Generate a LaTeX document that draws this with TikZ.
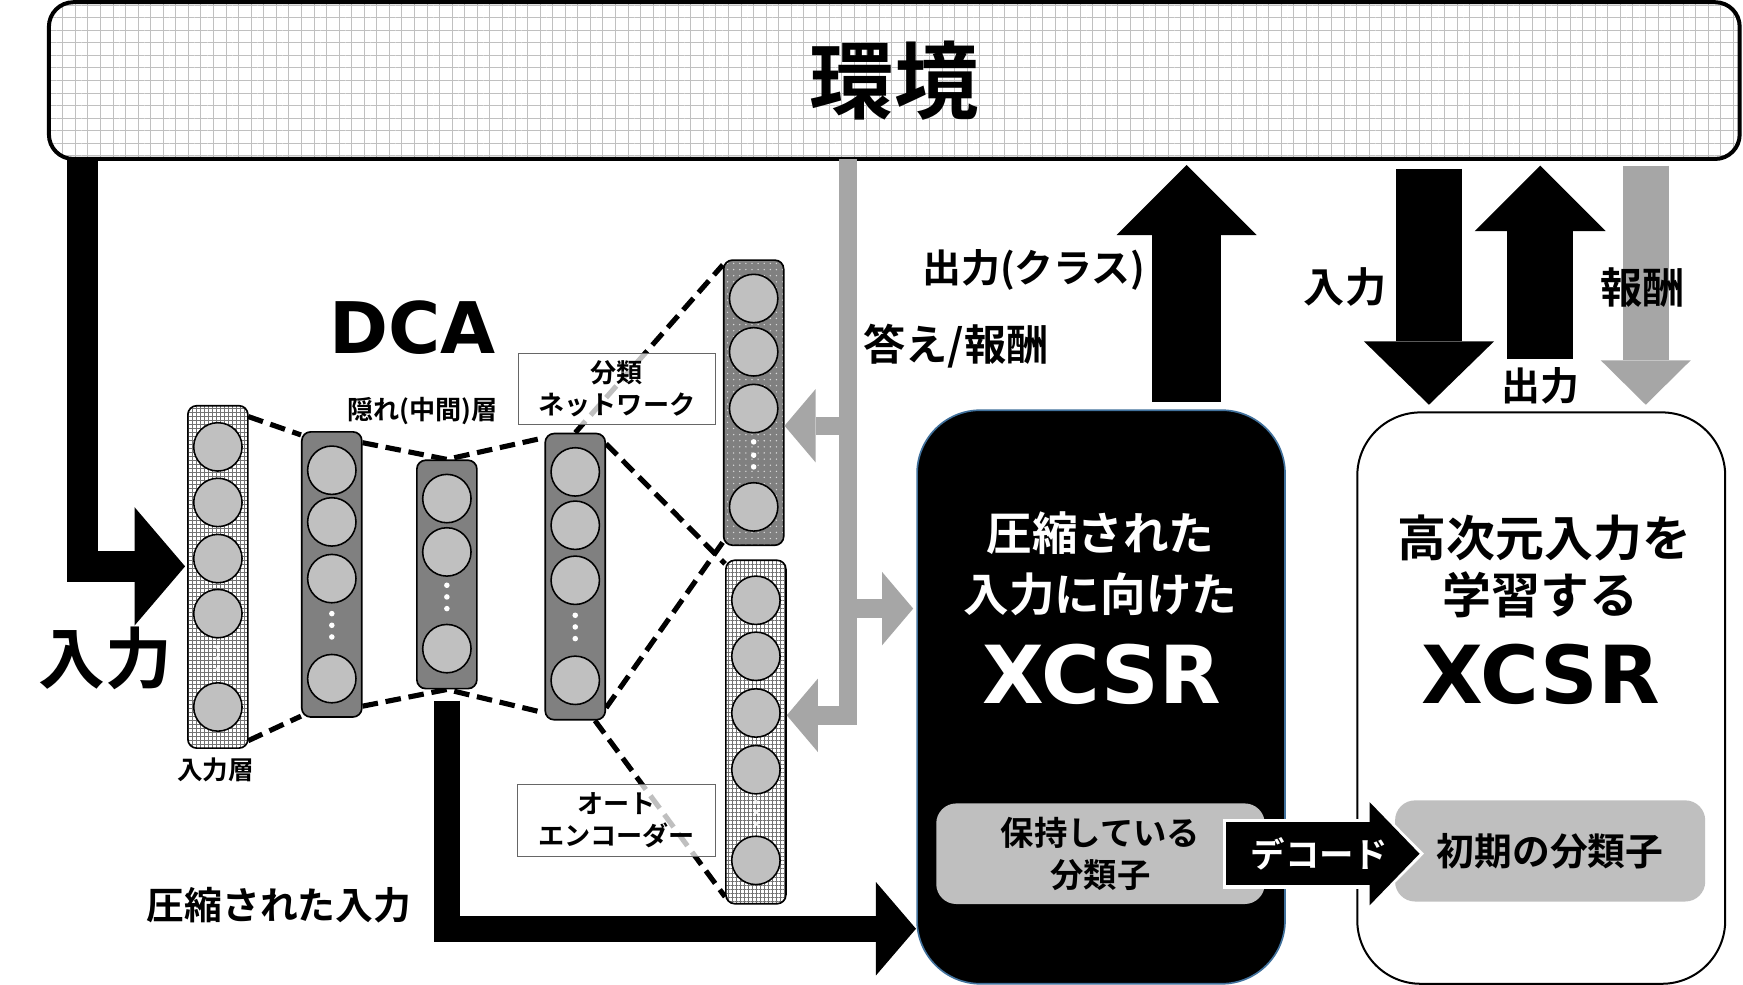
\documentclass[tikz,border=0pt]{standalone}
\usepackage{fontspec}
\newfontfamily\jp{Noto Sans CJK JP}[BoldFont={* Bold}]
\newfontfamily\lat{DejaVu Sans}
\usetikzlibrary{arrows.meta,patterns.meta,backgrounds,positioning}

\definecolor{fbgray}{HTML}{A6A6A6}
\definecolor{cellgray}{HTML}{C0C0C0}
\definecolor{layergray}{HTML}{808080}
\definecolor{boxgray}{HTML}{BFBFBF}
\definecolor{edgeblue}{HTML}{41719C}

\newcommand{\jpf}[2]{\jp\bfseries\fontsize{#1pt}{#2pt}\selectfont}
\newcommand{\latf}[1]{\lat\bfseries\fontsize{#1pt}{#1pt}\selectfont}

\begin{document}
\begin{tikzpicture}[x=1pt, y=-1pt,
  layerbox/.style={draw, line width=1.5pt, rounded corners=8pt, minimum width=54pt, inner sep=0pt},
  gridfill/.style={preaction={fill=white}, pattern={Hatch[distance=3.6pt, line width=0.6pt]}, pattern color=black!55},
  dotfill/.style={preaction={fill=layergray}, pattern={Dots[distance=5.5pt, radius=0.7pt]}, pattern color=black!15},
  neuron/.style={circle, draw, line width=1.4pt, fill=cellgray, minimum size=43.5pt, inner sep=0pt},
  vdot/.style={circle, fill=white, minimum size=5pt, inner sep=0pt},
  link/.style={line width=4.6pt, dash pattern=on 14pt off 7pt},
  tagbox/.style={draw=black!60, line width=0.8pt, fill=white, fill opacity=0.75, text opacity=1,
    minimum width=178pt, minimum height=64.5pt, inner sep=0pt, align=center, font=\jpf{23.5}{28.5}},
  bigarrow/.style n args={3}{line width=#1, -{Triangle[length=#2, width=#3, line width=0pt]}},
  fbline/.style={color=fbgray, line width=16.5pt, -{Triangle[length=28pt, width=66pt, line width=0pt]}},
  txt/.style={inner sep=0pt, font=\jpf{#1}{#1}},
  xcsrbox/.style={rounded corners=57pt, minimum width=331pt, inner sep=0pt},
  ruleset/.style={fill=boxgray, rounded corners=18pt, inner sep=0pt, align=center}
]
\useasboundingbox (0,0) rectangle (1568,886);

% environment
\node[draw, line width=3.6pt, rounded corners=22pt, minimum width=1521pt, minimum height=141pt,
  inner sep=0pt, preaction={fill=white}, pattern={Hatch[distance=11.3pt, line width=0.9pt]},
  pattern color=cellgray, font=\jpf{76}{76}] (env) at (804.5,72.5) {環境};

% DCA layers
\node[layerbox, gridfill, minimum height=308pt] (inp) at (196,519) {};
\foreach \y [count=\i] in {402,452,502.5,552,636}
  \node[neuron] (inp-\i) at (196,\y) {};
\foreach \y [count=\i] in {582,592,602}
  \node[vdot, opacity=0.8, minimum size=4pt] (inp-d\i) at (196,\y) {};

\node[layerbox, fill=layergray, minimum height=256.5pt] (h1) at (298.5,516.75) {};
\foreach \y [count=\i] in {423,469.5,520.5,610.5}
  \node[neuron] (h1-\i) at (298.5,\y) {};
\foreach \y [count=\i] in {552,562.5,573}
  \node[vdot] (h1-d\i) at (298.5,\y) {};

\node[layerbox, fill=layergray, minimum height=205.5pt] (h2) at (402,516.75) {};
\foreach \y [count=\i] in {448.5,496.5,583.5}
  \node[neuron] (h2-\i) at (402,\y) {};
\foreach \y [count=\i] in {526.5,537,547.5}
  \node[vdot] (h2-d\i) at (402,\y) {};

\node[layerbox, fill=layergray, minimum height=257.5pt] (h3) at (517.5,518.75) {};
\foreach \y [count=\i] in {424.5,472.5,522,612}
  \node[neuron] (h3-\i) at (517.5,\y) {};
\foreach \y [count=\i] in {553.5,564,574.5}
  \node[vdot] (h3-d\i) at (517.5,\y) {};

\node[layerbox, dotfill, minimum height=256.5pt] (cls) at (678,362.25) {};
\foreach \y [count=\i] in {268.5,316.5,367.5,456}
  \node[neuron] (cls-\i) at (678,\y) {};
\foreach \y [count=\i] in {397.5,409.5,420}
  \node[vdot] (cls-d\i) at (678,\y) {};

\node[layerbox, gridfill, minimum height=309pt] (ae) at (680,658.5) {};
\foreach \y [count=\i] in {540,590.4,641.4,692.4,774}
  \node[neuron] (ae-\i) at (680,\y) {};
\foreach \y [count=\i] in {721.5,730.5,741}
  \node[vdot, opacity=0.8, minimum size=4pt] (ae-d\i) at (680,\y) {};

% dashed links behind the layers
\begin{pgfonlayer}{background}
  \fill[white] (0,0) rectangle (1568,886);
  \draw[link] ([yshift=-10pt]inp.north east) -- ([yshift=-3.5pt]h1.north west);
  \draw[link] ([yshift=-10.5pt]h1.north east) -- (h2.north) -- ([yshift=-4.5pt]h3.north west);
  \draw[link] ([yshift=7pt]inp.south east) -- ([yshift=1.5pt]h1.south west);
  \draw[link] ([yshift=10.5pt]h1.south east) -- (h2.south) -- ([yshift=7pt]h3.south west);
  \draw[link] (h3.north) -- ([yshift=-5pt]cls.north west);
  \draw[link] ([yshift=-10pt]h3.north east) -- ([yshift=-4pt]ae.north west);
  \draw[link] ([yshift=11.5pt]h3.south east) -- ([yshift=3.5pt]cls.south west);
  \draw[link] ([xshift=-10pt]h3.south east) -- ([yshift=7pt]ae.south west);
\end{pgfonlayer}

\node[tagbox] (cls-tag) at (555,350) {分類\\ネットワーク};
\node[tagbox] (ae-tag) at (554.5,738) {オート\\エンコーダー};

\node[inner sep=0pt, font=\latf{64}] (dca) at (371,295) {DCA};
\node[txt=23.5] (hid-t) at (380,370) {隠れ(中間)層};
\node[txt=23] (inp-t) at (194,692.5) {入力層};

% XCSR boxes
\node[xcsrbox, fill=black, draw=edgeblue, line width=1.5pt, minimum height=516pt] (cx) at (990.5,627) {};
\node[xcsrbox, fill=white, draw=black, line width=1.8pt, minimum height=514pt] (hx) at (1386.5,628) {};

\node[txt=41, text=white] (cx-t1) at (990,480) {圧縮された};
\node[txt=41, text=white] (cx-t2) at (990,535) {入力に向けた};
\node[inner sep=0pt, font=\latf{72}, text=white] (cx-t3) at (991,607) {XCSR};
\node[txt=44] (hx-t1) at (1389.5,484) {高次元入力を};
\node[txt=44] (hx-t2) at (1386,535) {学習する};
\node[inner sep=0pt, font=\latf{72}] (hx-t3) at (1386,607) {XCSR};

\node[ruleset, minimum width=295.5pt, minimum height=90.5pt, font=\jpf{30}{38}] (held) at (990,768) {保持している\\分類子};
\node[ruleset, minimum width=279pt, minimum height=91pt, font=\jpf{34}{34}] (init) at (1394.5,765.5) {初期の分類子};

% end points
\coordinate (in-src) at (74,143);
\coordinate (in-dst) at (166.5,509.5);
\coordinate (comp-dst) at (824,835.5);
\coordinate (out-dst) at (1067.5,148.5);
\coordinate (rin-src) at (1285.5,152);
\coordinate (rout-dst) at (1385.5,149);
\coordinate (rew-src) at (1480.5,149);
\coordinate (fb-top) at (763,143);
\coordinate (fb-cls) at (763,383);
\coordinate (fb-x) at (763,547.5);
\coordinate (fb-xend) at (821.5,547.5);
\coordinate (dec-src) at (1103,768);
\coordinate (dec-dst) at (1277,768);

% fat arrows
\draw[bigarrow={27.5pt}{45.5pt}{106.6pt}] (in-src) |- (in-dst);
\draw[bigarrow={23.5pt}{36pt}{84pt}] ([yshift=-10pt]h2.south) |- (comp-dst);
\draw[bigarrow={62pt}{63pt}{126pt}] ([xshift=77pt,yshift=7pt]cx.north) -- (out-dst);
\draw[bigarrow={59pt}{57pt}{117pt}] (rin-src) -- ([xshift=-101pt,yshift=6pt]hx.north);
\draw[bigarrow={59pt}{59pt}{118pt}] ([xshift=-1pt,yshift=47pt]hx.north) -- (rout-dst);
\draw[bigarrow={41pt}{40pt}{81pt}, color=fbgray] (rew-src) -- ([xshift=94pt,yshift=6pt]hx.north);

% answer / reward feedback
\draw[fbline] (fb-top) |- ([yshift=15pt]ae.east);
\draw[fbline] (fb-cls) -- (fb-cls -| cls.east);
\draw[fbline] (fb-x) -- (fb-xend);

% decode
\draw[line width=57pt, -{Triangle[length=45pt, width=93pt, line width=0pt]},
  preaction={draw=white, line width=63pt, shorten <=-3pt, shorten >=-4pt,
    -{Triangle[length=51pt, width=103pt, line width=0pt]}}]
  (dec-src) -- (dec-dst);
\node[txt=31, text=white] (dec-t) at (1187,768) {デコード};

% labels
\node[txt=60] (in-t) at (95,592) {入力};
\node[txt=34] (comp-t) at (251,814) {圧縮された入力};
\node[txt=35] (out-t) at (930,243) {出力(クラス)};
\node[txt=38] (ans-t) at (860,311) {答え/報酬};
\node[txt=37] (rin-t) at (1210,258) {入力};
\node[txt=35] (rout-t) at (1386,347) {出力};
\node[txt=38] (rew-t) at (1478,259) {報酬};
\end{tikzpicture}
\end{document}
